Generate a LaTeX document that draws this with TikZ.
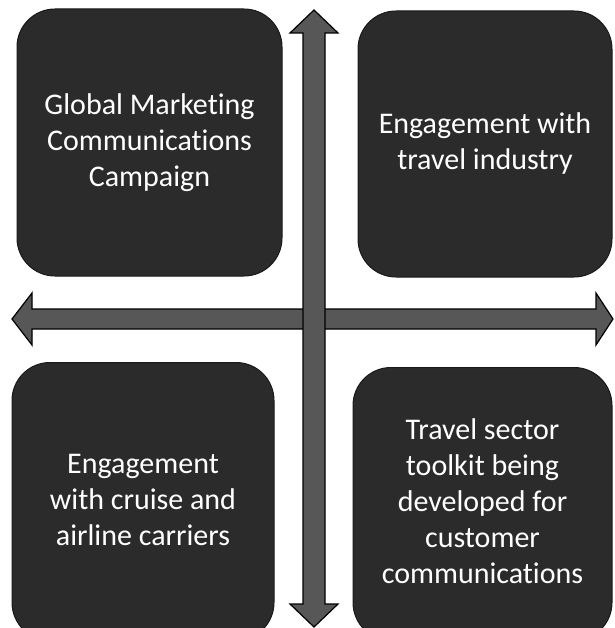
\documentclass[tikz,border=0pt]{standalone}
\usepackage{fontspec}
\setmainfont[Ligatures=NoCommon]{Carlito}
\begin{document}
\begin{tikzpicture}[x=1pt,y=-1pt,
  quad/.style={rounded corners=38pt, fill=black!83, draw=black!90, line width=1pt,
    text=white, align=center, inner sep=0pt, font=\fontsize{30}{36}\selectfont},
  arrowbody/.style={fill=black!66, draw=black, line width=1.2pt, line join=miter}]
\useasboundingbox (0,0) rectangle (614,628);
\clip (0,0) rectangle (614,628);
% boxes
\node[quad, minimum width=265pt, minimum height=267pt] (tl) at (149.5,142.5)
  {Global Marketing\\Communications\\Campaign};
\node[quad, minimum width=254pt, minimum height=266pt] (tr) at (485,144)
  {Engagement with\\travel industry};
\node[quad, minimum width=262pt, minimum height=278pt, anchor=north] (bl) at (143,362) {};
\node[text=white, align=center, font=\fontsize{30}{36}\selectfont] (bltext) at (143,500)
  {Engagement\\with cruise and\\airline carriers};
\node[quad, minimum width=259pt, minimum height=273pt, anchor=north] (br) at (482.5,367) {};
\node[text=white, align=center, font=\fontsize{30}{36}\selectfont] (brtext) at (482.5,501)
  {Travel sector\\toolkit being\\developed for\\customer\\communications};
% cross arrows
\coordinate (h) at (12,319);
\coordinate (v) at (314,10);
\def\harrow{(12,319) -- (32,293) -- (32,309) -- (596,309) -- (596,293) -- (613,319) -- (596,345) -- (596,329) -- (32,329) -- (32,345) -- cycle}
\def\varrow{(314,10) -- (338,33) -- (325,33) -- (325,604) -- (338,604) -- (314,627) -- (290,604) -- (303,604) -- (303,33) -- (290,33) -- cycle}
\draw[arrowbody] \harrow;
\draw[arrowbody] \varrow;
\fill[black!66] (303.6,309.6) rectangle (324.4,328.4);
\end{tikzpicture}
\end{document}
